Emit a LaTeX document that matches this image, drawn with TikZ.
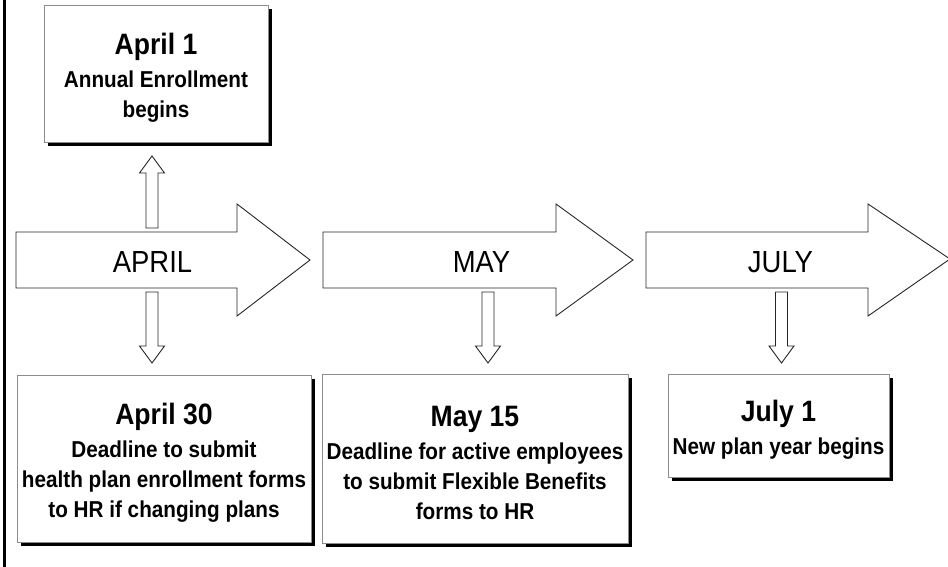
\documentclass[tikz,border=0pt]{standalone}
\usepackage{fontspec}
\setmainfont[FakeStretch=0.9]{Liberation Sans}
\usetikzlibrary{shadows}
\begin{document}
\begin{tikzpicture}[x=1pt,y=1pt,
  datebox/.style={draw=black!45, line width=0.8pt, fill=white,
    drop shadow={shadow xshift=4pt, shadow yshift=-4pt, fill=black, opacity=1},
    align=center, inner sep=0pt,
    font=\bfseries\fontsize{23}{30}\selectfont},
  arrline/.style={draw=black!85, line width=0.9pt, fill=white, line join=miter},
  month/.style={font=\fontsize{30.5}{32}\selectfont, anchor=base, inner sep=0pt},
  downarr/.pic={\path[arrline] (-6,0) -- (-6,-54) -- (-12.5,-54) -- (0,-71) -- (12.5,-54) -- (6,-54) -- (6,0) -- cycle;},
  uparr/.pic={\path[arrline] (-6,0) -- (-6,55) -- (-12.5,55) -- (0,72) -- (12.5,55) -- (6,55) -- (6,0) -- cycle;}
]
\newcommand{\ttl}[1]{{\rule{0pt}{30pt}\fontsize{29.5}{30}\selectfont #1}\\[3pt]}
\useasboundingbox (0,0) rectangle (948,-567);
\fill[white] (0,0) rectangle (948,-567);
% left border line
\draw[line width=2.5pt] (4.5,0) -- (4.5,-567);

% big month arrows
\path[arrline] (16,-232) -- (237,-232) -- (237,-204) -- (310,-260) -- (237,-316) -- (237,-288) -- (16,-288) -- cycle;
\path[arrline] (323,-232) -- (556,-232) -- (556,-204) -- (633,-260) -- (556,-316) -- (556,-288) -- (323,-288) -- cycle;
\path[arrline] (646,-232) -- (868,-232) -- (868,-204) -- (950,-259) -- (868,-316) -- (868,-288) -- (646,-288) -- cycle;
\node[month] (apr) at (152.5,-272) {APRIL};
\node[month] (may) at (481.5,-272) {MAY};
\node[month] (jul) at (780.5,-272) {JULY};

% boxes
\node[datebox, minimum width=224pt, minimum height=137pt] (b1) at (156,-73.5)
  {\ttl{April 1}Annual Enrollment\\ begins};
\node[datebox, minimum width=294pt, minimum height=167pt] (b2) at (164,-458.5)
  {\ttl{April 30}Deadline to submit\\ health plan enrollment forms\\ to HR if changing plans};
\node[datebox, minimum width=306pt, minimum height=169pt] (b3) at (475,-458.5)
  {\ttl{May 15}Deadline for active employees\\ to submit Flexible Benefits\\ forms to HR};
\node[datebox, minimum width=221pt, minimum height=103pt] (b4) at (778.5,-425.5)
  {\ttl{July 1}New plan year begins};

% small hollow arrows
\coordinate (u1) at (152,-228);
\coordinate (d1) at (152,-292);
\coordinate (d2) at (488,-292);
\coordinate (d3) at (781.5,-292);
\pic at (u1) {uparr};
\pic at (d1) {downarr};
\pic at (d2) {downarr};
\pic at (d3) {downarr};
\end{tikzpicture}
\end{document}
